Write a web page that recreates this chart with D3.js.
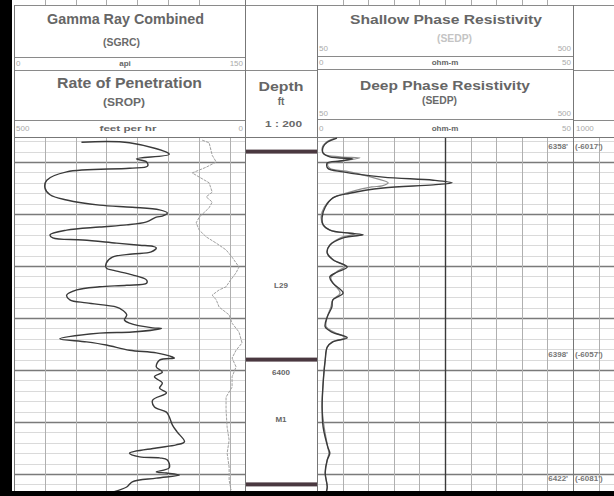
<!DOCTYPE html>
<html><head><meta charset="utf-8">
<script src="https://cdn.jsdelivr.net/npm/d3@7"></script>
<style>body{margin:0;background:#fff}svg{display:block}text{font-family:"Liberation Sans",Arial,sans-serif}</style>
</head><body><svg id="c" width="614" height="496"></svg>
<script>
// ---------------- DATA ----------------
const ropDepth = [6356.2,6356.3,6358.5,6359.4,6360.0,6360.8,6361.2,6361.9,6363.5,6365.0,6366.3,6367.3,6368.3,6368.7,6369.2,6369.8,6370.4,6370.6,6371.5,6372.1,6372.5,6373.1,6374.0,6374.6,6375.0,6375.6,6376.0,6376.2,6376.5,6377.3,6377.7,6378.3,6379.4,6380.4,6380.8,6381.7,6382.7,6383.3,6383.7,6384.0,6384.6,6385.6,6386.5,6387.1,6387.9,6388.5,6389.4,6390.4,6391.0,6391.9,6392.0,6392.7,6392.9,6394.0,6394.6,6395.2,6396.2,6396.7,6397.5,6397.7,6398.1,6399.4,6400.4,6401.3,6402.5,6403.5,6404.4,6405.8,6407.1,6408.1,6409.0,6410.6,6411.9,6413.8,6414.4,6415.0,6416.0,6416.7,6416.9,6417.3,6418.8,6419.6,6419.8,6420.2,6420.8,6421.5,6422.5,6423.5];
const ropValue = [354,250,164,235,213,211,250,386,429,433,422,386,315,244,185,168,179,192,213,256,315,386,422,416,351,278,228,200,192,203,244,287,300,300,287,244,213,213,256,315,364,386,379,343,278,265,256,261,250,200,181,244,315,401,343,300,250,192,157,153,185,192,179,196,179,185,170,200,196,170,164,157,147,131,149,192,250,228,185,168,164,192,170,142,192,244,256,287];

const gammaDepth = [6355.8,6356.3,6358.7,6360.0,6361.0,6362.1,6362.9,6364.0,6365.8,6366.7,6367.7,6368.8,6370.6,6371.7,6373.1,6374.4,6375.6,6376.9,6378.3,6380.2,6381.3,6383.1,6384.0,6384.6,6385.6,6386.5,6387.9,6389.4,6391.0,6392.7,6394.8,6396.2,6397.7,6399.4,6401.3,6403.3,6405.2,6407.7,6411.0,6413.5,6416.0,6418.7,6421.2,6423.1];
const gammaValue = [122.2,126.7,128.7,131.3,124.8,115.7,120.3,126.7,128.7,124.8,128.7,126.7,120.3,118.3,120.3,124.8,131.3,137.7,141.6,146.1,144.2,139.7,137.7,133.2,128.7,131.3,133.2,139.7,141.6,146.1,148.1,144.2,141.6,144.2,141.6,141.6,137.7,137.7,138.4,139.7,138.4,139.7,139.7,141.0];

const deepDepth = [6355.4,6356.2,6357.1,6358.3,6359.0,6359.4,6359.8,6360.2,6361.2,6361.9,6362.9,6363.5,6364.0,6364.4,6365.0,6366.0,6366.9,6368.7,6370.6,6372.1,6373.1,6373.7,6374.0,6374.6,6376.0,6377.5,6378.8,6380.2,6381.2,6382.1,6383.3,6385.2,6386.5,6387.9,6389.8,6391.7,6392.7,6393.8,6394.6,6395.6,6398.1,6402.5,6407.1,6411.0,6414.8,6416.0,6417.3,6419.8,6422.5,6423.5];
const deepValue = [3.9,2.0,1.2,1.2,2.5,7.0,4.5,2.0,2.1,5.1,12.9,22.7,26.4,22.7,12.9,6.4,3.1,1.6,1.0,1.2,2.5,6.4,9.0,5.1,2.5,2.0,3.1,5.9,3.9,2.5,3.1,5.1,3.1,2.9,2.0,1.6,2.9,5.9,3.1,2.0,1.6,1.2,1.0,1.2,2.1,2.5,2.0,1.6,2.0,1.8];

const shallowDepth = [6355.4,6356.2,6357.3,6358.5,6359.0,6359.2,6359.8,6360.4,6361.2,6361.9,6363.1,6364.0,6364.6,6364.8,6365.8,6366.9,6368.7,6370.6,6372.1,6373.3,6373.8,6374.6,6376.2,6377.5,6379.0,6380.0,6381.2,6382.3,6383.5,6385.2,6386.5,6387.9,6389.8,6391.7,6392.7,6393.8,6394.6,6395.6,6398.1,6402.5,6407.1,6411.0,6414.8,6416.0,6417.3,6419.8,6422.5,6423.5];
const shallowValue = [3.5,1.8,1.0,1.4,4.5,8.4,4.9,2.1,2.5,6.4,11.3,13.9,12.7,10.7,6.4,3.1,1.4,0.8,1.2,3.1,7.4,4.5,2.3,2.0,3.5,5.5,3.7,2.7,3.3,4.5,3.1,2.7,2.0,1.8,3.3,5.5,2.9,2.0,1.6,1.2,1.0,1.4,2.1,2.3,2.0,1.6,2.0,1.8];

const markerDepths = [6358, 6398, 6422];
const markerLabels = ["6358'", "6398'", "6422'"];
const markerSubsea = ["(-6017')", "(-6057')", "(-6081')"];
const depthColLabels = ["L29", "6400", "M1"];
const depthColLabelDepths = [6383.6, 6400.4, 6409.4];

const gammaScaleLabels = ["0", "api", "150"];
const ropScaleLabels = ["500", "feet per hr", "0"];
const resScaleLabels = ["0", "ohm-m", "50"];
const resBackupLabels = ["50", "500"];

// ---------------- LAYOUT ----------------
const svg = d3.select("#c");
const T1 = [14, 245], DT = [245, 317], T2 = [317, 573], T3 = [573, 614];
const chartTop = 137, chartBottom = 491;

const y = d3.scaleLinear().domain([6360, 6420]).range([162, 474]);
const xRop = d3.scaleLinear().domain([500, 0]).range(T1);
const xGam = d3.scaleLinear().domain([0, 150]).range(T1);
const xRes = d3.scaleLinear().domain([0, 50]).range(T2);

svg.append("rect").attr("width", 614).attr("height", 496).attr("fill", "#fff");

const defs = svg.append("defs");
defs.append("clipPath").attr("id", "c1").append("rect").attr("x", T1[0]).attr("y", chartTop).attr("width", T1[1]-T1[0]).attr("height", chartBottom-chartTop);
defs.append("clipPath").attr("id", "c2").append("rect").attr("x", T2[0]).attr("y", chartTop).attr("width", T2[1]-T2[0]).attr("height", chartBottom-chartTop);

// horizontal grid
const d0 = Math.ceil(y.invert(chartTop)), d1 = Math.floor(y.invert(chartBottom));
const hDepths = d3.range(d0 + (d0 % 2 ? 1 : 0), d1 + 1, 2);
const gridG = svg.append("g");
[[T1[0], T1[1]], [T2[0], T3[1]]].forEach(([a, b]) => {
  gridG.selectAll(null).data(hDepths).enter().append("line")
    .attr("x1", a).attr("x2", b)
    .attr("y1", d => Math.round(y(d)) + 0.5).attr("y2", d => Math.round(y(d)) + 0.5)
    .attr("stroke", d => d % 10 === 0 ? "#7a7a7a" : "#dadada")
    .attr("stroke-width", d => d % 10 === 0 ? 1.4 : 1);
});
// vertical grid
gridG.selectAll(null).data(xGam.ticks(10)).enter().append("line")
  .attr("x1", d => Math.round(xGam(d)) + 0.5).attr("x2", d => Math.round(xGam(d)) + 0.5)
  .attr("y1", chartTop).attr("y2", chartBottom)
  .attr("stroke", d => d === 75 ? "#3a3a3a" : "#b0b0b0")
  .attr("stroke-width", d => d === 75 ? 1.4 : 1);
gridG.selectAll(null).data(d3.range(0, 56, 5)).enter().append("line")
  .attr("x1", d => Math.round(xRes(d)) + 0.5).attr("x2", d => Math.round(xRes(d)) + 0.5)
  .attr("y1", chartTop).attr("y2", chartBottom)
  .attr("stroke", d => d === 25 ? "#3a3a3a" : "#b0b0b0")
  .attr("stroke-width", d => d === 25 ? 1.4 : 1);

// header frame lines
const L = (x1, y1, x2, y2, c = "#8a8a8a", w = 1) => svg.append("line")
  .attr("x1", x1).attr("y1", y1).attr("x2", x2).attr("y2", y2).attr("stroke", c).attr("stroke-width", w);
L(14, 5.5, 614, 5.5);
[57.5, 70.5, 120.5].forEach(v => L(T1[0], v, T1[1], v));
L(DT[0], 70.5, DT[1], 70.5);
[56.5, 69.5, 119.5].forEach(v => L(T2[0], v, T2[1], v));
[70.5, 120.5].forEach(v => L(T3[0], v, T3[1], v));
L(14, chartTop + 0.5, 614, chartTop + 0.5, "#777");
[14.5, 245.5, 317.5, 573.5].forEach(v => L(v, 5, v, chartBottom, "#777"));
L(245.5, 0, 245.5, 5, "#777");
const topTicks = xGam.ticks(10).slice(1, -1).map(xGam).concat(d3.range(5, 50, 5).map(xRes));
topTicks.forEach(v => L(Math.round(v) + 0.5, 0, Math.round(v) + 0.5, 5, "#aaa"));

// header text
const T = (txt, x, yy, o = {}) => {
  const t = svg.append("text").attr("x", x).attr("y", yy).text(txt)
    .attr("font-size", o.size || 8).attr("font-weight", o.bold ? "bold" : "normal")
    .attr("fill", o.fill || "#555").attr("text-anchor", o.anchor || "start");
  if (o.len) t.attr("textLength", o.len).attr("lengthAdjust", "spacingAndGlyphs");
  return t;
};
T("Gamma Ray Combined", 125.5, 24, {size: 14, bold: true, anchor: "middle", len: 157, fill: "#666"});
T("(SGRC)", 121.5, 46, {size: 11, bold: true, anchor: "middle", len: 37, fill: "#6a6a6a"});
T(gammaScaleLabels[0], 16, 66, {fill: "#aaa"});
T(gammaScaleLabels[1], 125, 66, {anchor: "middle", bold: true, fill: "#666"});
T(gammaScaleLabels[2], 243, 66, {anchor: "end", fill: "#aaa"});
T("Rate of Penetration", 129.5, 88, {size: 14, bold: true, anchor: "middle", len: 145, fill: "#666"});
T("(SROP)", 124, 106, {size: 11, bold: true, anchor: "middle", len: 42, fill: "#6a6a6a"});
T(ropScaleLabels[0], 16, 131, {fill: "#aaa"});
T(ropScaleLabels[1], 128, 131, {anchor: "middle", bold: true, fill: "#666", len: 57});
T(ropScaleLabels[2], 243, 131, {anchor: "end", fill: "#aaa"});

T("Depth", 281, 91, {size: 13, bold: true, anchor: "middle", len: 45, fill: "#666"});
T("ft", 281, 105, {size: 10, bold: true, anchor: "middle", fill: "#6a6a6a"});
T("1 : 200", 283.5, 127, {size: 9, bold: true, anchor: "middle", len: 37, fill: "#6a6a6a"});

T("Shallow Phase Resistivity", 446, 24, {size: 13, bold: true, anchor: "middle", len: 192, fill: "#666"});
T("(SEDP)", 454.5, 42, {size: 10, bold: true, anchor: "middle", len: 35, fill: "#c4c4c4"});
T(resBackupLabels[0], 319, 51, {fill: "#aaa"});
T(resBackupLabels[1], 571, 51, {anchor: "end", fill: "#aaa"});
T(resScaleLabels[0], 319, 65, {fill: "#aaa"});
T(resScaleLabels[1], 445, 65, {anchor: "middle", bold: true, fill: "#666"});
T(resScaleLabels[2], 571, 65, {anchor: "end", fill: "#aaa"});
T("Deep Phase Resistivity", 445, 90, {size: 13, bold: true, anchor: "middle", len: 170, fill: "#666"});
T("(SEDP)", 439.5, 104, {size: 11, bold: true, anchor: "middle", len: 35, fill: "#6a6a6a"});
T(resBackupLabels[0], 319, 116, {fill: "#aaa"});
T(resBackupLabels[1], 571, 116, {anchor: "end", fill: "#aaa"});
T(resScaleLabels[0], 319, 131, {fill: "#aaa"});
T(resScaleLabels[1], 445, 131, {anchor: "middle", bold: true, fill: "#666"});
T(resScaleLabels[2], 571, 131, {anchor: "end", fill: "#aaa"});
T("1000", 576, 131, {fill: "#aaa"});

// depth track: white + markers
svg.append("rect").attr("x", DT[0] + 1).attr("y", chartTop + 1).attr("width", DT[1] - DT[0] - 1).attr("height", chartBottom - chartTop - 1).attr("fill", "#fff");
svg.selectAll(null).data(markerDepths).enter().append("rect")
  .attr("x", DT[0] + 1).attr("width", DT[1] - DT[0] - 1)
  .attr("y", d => y(d) - 2).attr("height", 4).attr("fill", "#4a3840");
depthColLabels.forEach((s, i) => T(s, 281, y(depthColLabelDepths[i]) + 3, {anchor: "middle", fill: "#666", size: 8, bold: true}));

// depth labels at right
markerDepths.forEach((d, i) => {
  T(markerLabels[i], 568, y(d) - 3, {anchor: "end", fill: "#777", size: 8, bold: true});
  T(markerSubsea[i], 575, y(d) - 3, {fill: "#777", size: 8, bold: true});
});

// curves
const lineG = d3.line().x(d => xGam(d[1])).y(d => y(d[0]));
svg.append("path").attr("clip-path", "url(#c1)")
  .attr("d", lineG(gammaDepth.map((d, i) => [d, gammaValue[i]])))
  .attr("fill", "none").attr("stroke", "#a0a0a0").attr("stroke-width", 1).attr("stroke-dasharray", "3,1");
const lineR = d3.line().x(d => xRop(d[1])).y(d => y(d[0])).curve(d3.curveCatmullRom.alpha(0.5));
svg.append("path").attr("clip-path", "url(#c1)")
  .attr("d", lineR(ropDepth.map((d, i) => [d, ropValue[i]])))
  .attr("fill", "none").attr("stroke", "#3a3a3a").attr("stroke-width", 1.4);
const lineS = d3.line().x(d => xRes(d[1])).y(d => y(d[0])).curve(d3.curveCatmullRom.alpha(0.5));
svg.append("path").attr("clip-path", "url(#c2)")
  .attr("d", lineS(shallowDepth.map((d, i) => [d, shallowValue[i]])))
  .attr("fill", "none").attr("stroke", "#8e8e8e").attr("stroke-width", 1.2);
svg.append("path").attr("clip-path", "url(#c2)")
  .attr("d", lineS(deepDepth.map((d, i) => [d, deepValue[i]])))
  .attr("fill", "none").attr("stroke", "#3a3a3a").attr("stroke-width", 1.4);

// black scan borders
svg.append("rect").attr("x", 0).attr("y", 0).attr("width", 12).attr("height", 496).attr("fill", "#000");
svg.append("rect").attr("x", 0).attr("y", 491).attr("width", 614).attr("height", 5).attr("fill", "#000");
</script></body></html>
